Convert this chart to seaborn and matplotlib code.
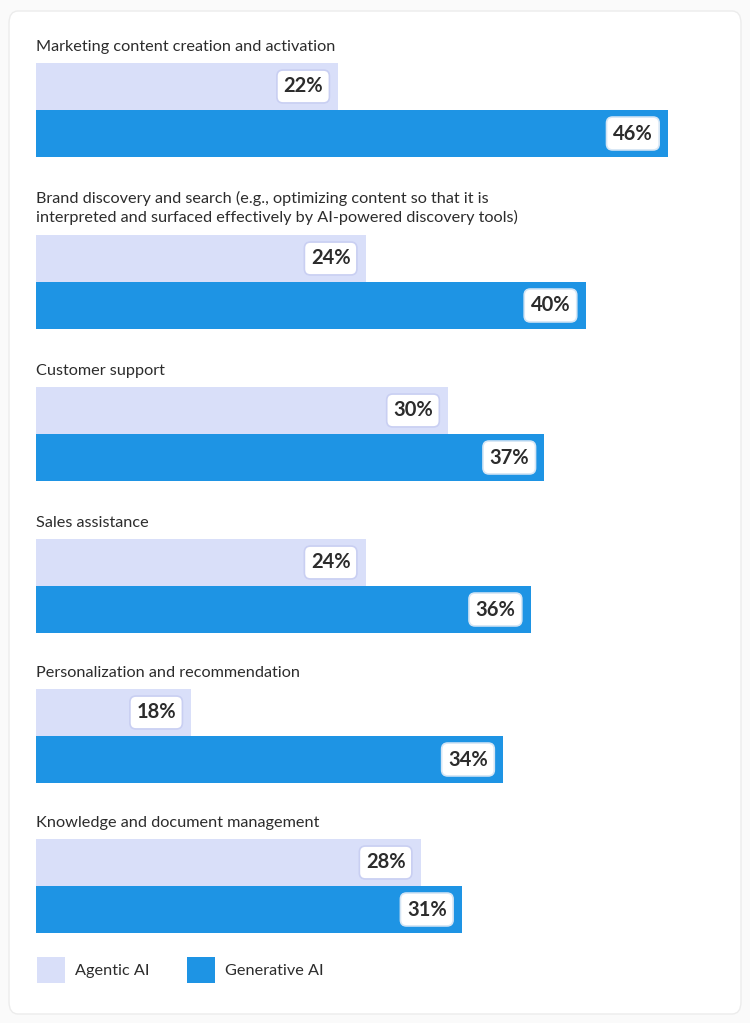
import numpy as np
import pandas as pd
import seaborn as sns
import matplotlib.pyplot as plt
from matplotlib.patches import FancyBboxPatch, Patch

categories = [
    "Marketing content creation and activation",
    "Brand discovery and search (e.g., optimizing content so that it is\n"
    "interpreted and surfaced effectively by AI-powered discovery tools)",
    "Customer support",
    "Sales assistance",
    "Personalization and recommendation",
    "Knowledge and document management",
]
series_names = ["Agentic AI", "Generative AI"]
# printed values
agentic_labels = [22, 24, 30, 24, 18, 28]
generative_labels = [46, 40, 37, 36, 34, 31]
# bar lengths as drawn in the source (the 18% bar is drawn much shorter)
agentic = [22, 24, 30, 24, 11.3, 28]
generative = [46, 40, 37, 36, 34, 31]

colors = {"Agentic AI": "#d9dff9", "Generative AI": "#1e94e4"}
text_color = "#2c2c2c"

sns.set_theme(style="white")
plt.rcParams["font.family"] = ["Lato", "DejaVu Sans"]

W, H = 750, 1023
fig = plt.figure(figsize=(W / 100, H / 100), dpi=100)
fig.patch.set_facecolor("#fafafa")

# card background, kept behind the bar axes
card = FancyBboxPatch(
    (9 / W, 9 / H), 732 / W, 1003 / H,
    boxstyle="round,pad=0,rounding_size=0.012",
    transform=fig.transFigure, fc="white", ec="#ececec", lw=1, zorder=-5,
)
fig.patches.append(card)

px_per_pct = 632 / 46
left_px = 36
axis_w_px = 690 - left_px
bar_tops = [63, 235, 387, 539, 689, 839]
label_tops = [40, 191, 364, 516, 666, 816]
bar_h_px = 94

for i, cat in enumerate(categories):
    df = pd.DataFrame({
        "series": series_names,
        "value": [agentic[i], generative[i]],
        "label": [agentic_labels[i], generative_labels[i]],
    })
    top = bar_tops[i]
    ax = fig.add_axes([left_px / W, 1 - (top + bar_h_px) / H, axis_w_px / W, bar_h_px / H])
    sns.barplot(
        data=df, x="value", y="series", hue="series", palette=colors,
        width=0.995, legend=False, ax=ax, saturation=1, linewidth=0,
    )
    ax.set_xlim(0, axis_w_px / px_per_pct)
    ax.set_ylim(1.5, -0.5)
    ax.axis("off")
    for j, (v, lab) in enumerate(zip(df["value"], df["label"])):
        ec = "#c9cff2" if j == 0 else "#d6e6f5"
        ax.annotate(
            f"{lab}%", xy=(v, j), xytext=(-11, 0), textcoords="offset points",
            ha="right", va="center", fontsize=14.5, fontweight="bold", color=text_color,
            bbox=dict(boxstyle="round,pad=0.32,rounding_size=0.3", fc="white", ec=ec, lw=1.2),
        )
    fig.text(left_px / W, 1 - label_tops[i] / H, cat, ha="left", va="top",
             fontsize=11.7, color=text_color, linespacing=1.3)

handles = [Patch(fc=colors[s], ec="none") for s in series_names]
fig.legend(
    handles, series_names, loc="center left", bbox_to_anchor=(22 / W, 1 - 970 / H),
    ncol=2, frameon=False, fontsize=11.7, handlelength=1.75, handleheight=2.0,
    handletextpad=0.6, columnspacing=2.3, labelcolor=text_color,
)

fig.savefig("out.png", dpi=100, facecolor=fig.get_facecolor())
